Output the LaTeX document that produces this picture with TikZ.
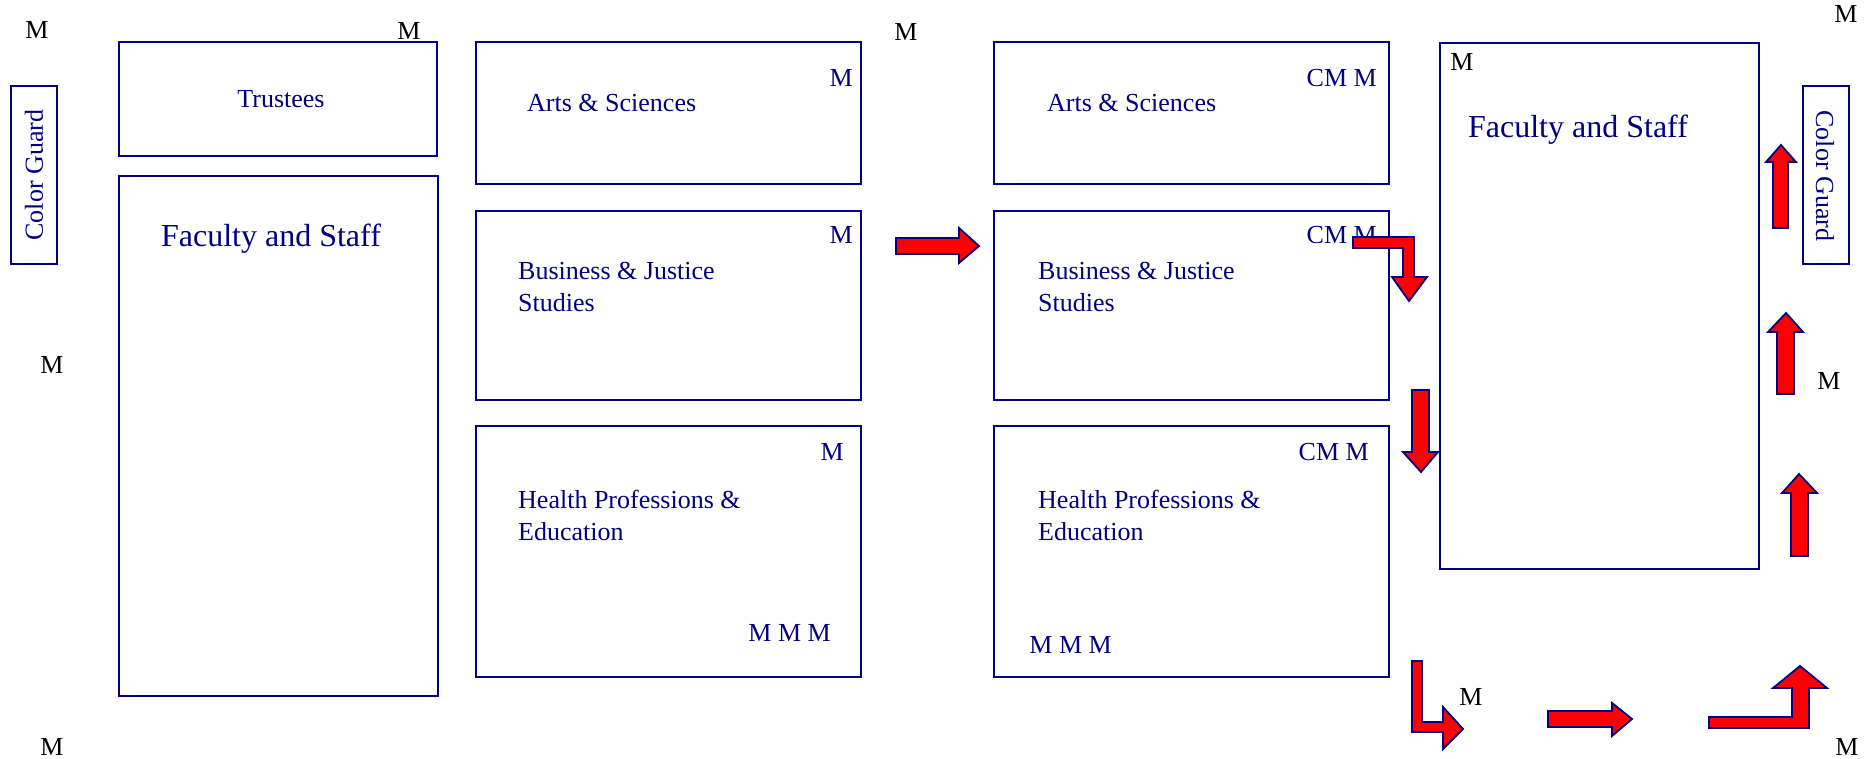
\documentclass[tikz,border=0pt]{standalone}
\usepackage{fontspec}
\setmainfont{Liberation Serif}
\definecolor{navy}{RGB}{0,0,128}
\definecolor{arrred}{RGB}{255,0,0}
\begin{document}
\begin{tikzpicture}[x=1pt,y=-1pt,
  box/.style={draw=navy,line width=1.6pt,anchor=north west,inner sep=0pt,outer sep=0pt},
  txt/.style={text=navy,inner sep=0pt,font=\fontsize{26}{31}\selectfont},
  bigtxt/.style={text=navy,inner sep=0pt,font=\fontsize{32}{38}\selectfont},
  mk/.style={text=black,inner sep=0pt,font=\fontsize{26}{31}\selectfont},
  bm/.style={text=navy,inner sep=0pt,font=\fontsize{26}{31}\selectfont,anchor=base east},
  blk/.style={fill=arrred,draw=navy,line width=1.8pt,line join=miter}]
\useasboundingbox (0,0) rectangle (1864,758);
% boxes
\node[box,minimum width=46pt,minimum height=178pt] (cgl) at (11,86) {};
\node[box,minimum width=318pt,minimum height=114pt] (trust) at (119,42) {};
\node[box,minimum width=319pt,minimum height=520pt] (facl) at (119,176) {};
\node[box,minimum width=385pt,minimum height=142pt] (as1) at (476,42) {};
\node[box,minimum width=385pt,minimum height=189pt] (bj1) at (476,211) {};
\node[box,minimum width=385pt,minimum height=251pt] (hp1) at (476,426) {};
\node[box,minimum width=395pt,minimum height=142pt] (as2) at (994,42) {};
\node[box,minimum width=395pt,minimum height=189pt] (bj2) at (994,211) {};
\node[box,minimum width=395pt,minimum height=251pt] (hp2) at (994,426) {};
\node[box,minimum width=319pt,minimum height=526pt] (facr) at (1440,43) {};
\node[box,minimum width=46pt,minimum height=178pt] (cgr) at (1803,86) {};
% texts
\node[txt,rotate=90] (cgltxt) at (34,175) {Color Guard};
\node[txt,rotate=-90] (cgrtxt) at (1825,176) {Color Guard};
\node[txt,anchor=base] (trusttxt) at (281,107) {Trustees};
\node[bigtxt,anchor=base] (facltxt) at (271,246) {Faculty and Staff};
\node[bigtxt,anchor=base] (facrtxt) at (1578,137) {Faculty and Staff};
\node[txt,anchor=base west] (as1txt) at (527,111) {Arts \& Sciences};
\node[txt,anchor=base west] (as2txt) at (1047,111) {Arts \& Sciences};
\node[txt,anchor=base west,align=left] (bj1a) at (518,279) {Business \& Justice};
\node[txt,anchor=base west,align=left] (bj1b) at (518,311) {Studies};
\node[txt,anchor=base west,align=left] (bj2a) at (1038,279) {Business \& Justice};
\node[txt,anchor=base west,align=left] (bj2b) at (1038,311) {Studies};
\node[txt,anchor=base west,align=left] (hp1a) at (518,508) {Health Professions \&};
\node[txt,anchor=base west,align=left] (hp1b) at (518,540) {Education};
\node[txt,anchor=base west,align=left] (hp2a) at (1038,508) {Health Professions \&};
\node[txt,anchor=base west,align=left] (hp2b) at (1038,540) {Education};
% blue marks
\node[bm] (m1) at (853,86) {M};
\node[bm] (m2) at (853,243) {M};
\node[bm] (m3) at (844,460) {M};
\node[bm] (m4) at (831,641) {M M M};
\node[bm] (m5) at (1377,86) {CM M};
\node[bm] (m6) at (1377,243) {CM M};
\node[bm] (m7) at (1369,460) {CM M};
\node[bm] (m8) at (1112,653) {M M M};
% black marks
\node[mk] (k1) at (37,30) {M};
\node[mk] (k2) at (409,31) {M};
\node[mk] (k3) at (906,32) {M};
\node[mk] (k4) at (1846,14) {M};
\node[mk] (k5) at (52,365) {M};
\node[mk] (k6) at (1829,381) {M};
\node[mk] (k7) at (52,747) {M};
\node[mk] (k8) at (1471,697) {M};
\node[mk] (k9) at (1847,747) {M};
\node[mk] (k10) at (1462,62) {M};
% block arrows
\draw[blk] (896,238) -- (959,238) -- (959,228) -- (979,246) -- (959,263) -- (959,254) -- (896,254) -- cycle;
\draw[blk] (1353,237) -- (1414,237) -- (1414,277) -- (1427,277) -- (1409,301) -- (1392,277) -- (1403,277) -- (1403,248) -- (1353,248) -- cycle;
\draw[blk] (1412,390) -- (1429,390) -- (1429,452) -- (1438,452) -- (1421,472) -- (1403,452) -- (1412,452) -- cycle;
\draw[blk] (1412,661) -- (1422,661) -- (1422,722) -- (1443,722) -- (1443,707) -- (1463,729) -- (1443,749) -- (1443,732) -- (1412,732) -- cycle;
\draw[blk] (1548,711) -- (1612,711) -- (1612,703) -- (1632,719) -- (1612,736) -- (1612,727) -- (1548,727) -- cycle;
\draw[blk] (1709,717) -- (1792,717) -- (1792,688) -- (1773,688) -- (1800,666) -- (1827,688) -- (1809,688) -- (1809,728) -- (1709,728) -- cycle;
\draw[blk] (1773,228) -- (1788,228) -- (1788,162) -- (1796,162) -- (1781,145) -- (1766,162) -- (1773,162) -- cycle;
\draw[blk] (1777,394) -- (1794,394) -- (1794,332) -- (1803,332) -- (1786,313) -- (1768,332) -- (1777,332) -- cycle;
\draw[blk] (1791,556) -- (1808,556) -- (1808,493) -- (1817,493) -- (1799,474) -- (1782,493) -- (1791,493) -- cycle;
\end{tikzpicture}
\end{document}
